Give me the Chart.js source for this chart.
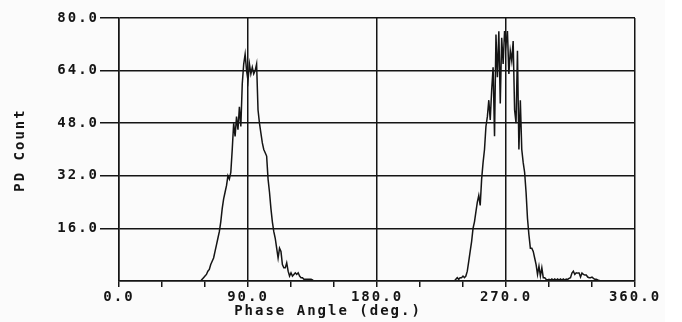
<!DOCTYPE html>
<html>
<head>
<meta charset="utf-8">
<script src="https://cdn.jsdelivr.net/npm/chart.js@4.4.1/dist/chart.umd.min.js"></script>
<style>
  html, body { margin: 0; padding: 0; background: #fff; }
  canvas { display: block; }
</style>
</head>
<body>
<canvas id="myChart" width="682" height="322"></canvas>
<script>
// datos (histograma de descargas parciales por fase)
const angles1 = [56,57,58,59,60,61,62,63,64,65,66,67,68,69,70,71,72,73,74,75,76,77,78,79,80,
  81,82,83,84,85,86,87,88,89,90,91,92,93,94,95,96,97,98,99,100,101,102,103,104,105,
  106,107,108,109,110,111,112,113,114,115,116,117,118,119,120,121,122,123,124,125,
  126,127,128,129,130,131,132,133,134,135,136];
const counts1 = [0,0,0.5,1,1.5,2,3,3.5,5,6,7,9,11,13,15,18,22,25,27,29,32,31,33,40,48,
  44,50,46,53,47,60,66,69,64,61,66,63,65,63,64,66,52,48,45,42,40,39,38,31,27,
  22,18,15,13,10,7,10,9,5,4,4,5.5,3,1.5,2.5,1.5,2,2.5,2,2.5,
  1.5,1,1,0.5,0.5,0.5,0.5,0.5,0.5,0.3,0];

const angles2 = [234,235,236,237,238,239,240,241,242,243,244,245,246,247,248,249,250,
  251,252,253,254,255,256,257,258,259,260,261,262,263,264,265,266,267,268,269,270,
  271,272,273,274,275,276,277,278,279,280,281,282,283,284,285,286,287,288,289,290,
  291,292,293,294,295,296,297,298,299,300,301,302,303,304,305,306,307,308,309,310,
  311,312,313,314,315,316,317,318,319,320,321,322,323,324,325,326,327,328,329,330,
  331,332,333,334,335,336];
const counts2 = [0,0.5,1,0.5,1,1,1.5,1,1.5,3,6,9,12,16,18,21,24,
  26,23,31,36,40,47,50,55,49,58,65,44,75,62,76,54,74,66,76,72,
  76,63,70,67,73,52,48,70,40,55,40,36,33,27,19,14,10,10,9,7,
  5,2,4.5,1.5,4,1,1,0.5,0.3,0.5,0.3,0.6,0.3,0.6,0.3,0.6,0.3,0.6,0.3,0.6,
  0.3,0.6,0.5,0.8,1,2.4,3,2,2.5,2.4,2.4,1.2,2.4,2,1.8,1.8,1.2,1,1,1.2,
  0.8,0.5,0.5,0.3,0.2,0];

const xLabelAngles = [0, 90, 180, 270, 360];
const yLabelValues = [16, 32, 48, 64, 80];
const xTitle = 'Phase Angle (deg.)';
const yTitle = 'PD Count';

const ink = '#151515';
const monoFont = { family: '"DejaVu Sans Mono", monospace', size: 14, weight: 'bold' };

const extras = {
  id: 'extras',
  beforeUpdate(chart) { chart.ctx.letterSpacing = '2px'; },
  beforeDraw(chart) {
    const c = chart.ctx;
    c.letterSpacing = '2px';
    c.save();
    c.fillStyle = '#fbfbfb';
    c.fillRect(0, 0, 665, 322);
    c.restore();
  },
  afterDraw(chart) {
    const c = chart.ctx;
    c.save();
    c.font = 'bold 14px "DejaVu Sans Mono", monospace';
    c.fillStyle = ink;
    c.textAlign = 'center';
    c.textBaseline = 'middle';
    c.fillText(xTitle, 328, 311);
    c.translate(20, 150);
    c.rotate(-Math.PI / 2);
    c.fillText(yTitle, 0, 0);
    c.restore();
  }
};

const ctx = document.getElementById('myChart');

new Chart(ctx, {
  type: 'line',
  data: {
    datasets: [
      {
        data: angles1.map((a, i) => ({ x: a, y: counts1[i] })),
        borderColor: ink,
        borderWidth: 1.5,
        pointRadius: 0,
        tension: 0
      },
      {
        data: angles2.map((a, i) => ({ x: a, y: counts2[i] })),
        borderColor: ink,
        borderWidth: 1.5,
        pointRadius: 0,
        tension: 0
      }
    ]
  },
  options: {
    responsive: false,
    animation: false,
    layout: { padding: { top: 18, right: 47, bottom: 0, left: 0 } },
    plugins: { legend: { display: false }, tooltip: { enabled: false } },
    scales: {
      x: {
        type: 'linear',
        min: 0,
        max: 360,
        afterFit: s => { s.height = 41; },
        ticks: {
          stepSize: 30,
          autoSkip: false,
          maxRotation: 0,
          padding: 2,
          color: ink,
          font: monoFont,
          callback: v => xLabelAngles.includes(v) ? v.toFixed(1) : ''
        },
        grid: {
          color: c => (c.tick && xLabelAngles.includes(c.tick.value)) ? ink : 'rgba(0,0,0,0)',
          tickColor: ink,
          lineWidth: 1.5,
          tickLength: 6
        },
        border: { color: ink, width: 1.5 }
      },
      y: {
        min: 0,
        max: 80,
        afterFit: s => { s.width = 119; },
        ticks: {
          stepSize: 16,
          padding: 1,
          color: ink,
          font: monoFont,
          callback: v => yLabelValues.includes(v) ? v.toFixed(1) : ''
        },
        grid: {
          color: ink,
          tickColor: c => (c.tick && c.tick.value === 0) ? 'rgba(0,0,0,0)' : ink,
          lineWidth: 1.5,
          tickLength: 19
        },
        border: { color: ink, width: 1.5 }
      }
    }
  },
  plugins: [extras]
});
</script>
</body>
</html>
